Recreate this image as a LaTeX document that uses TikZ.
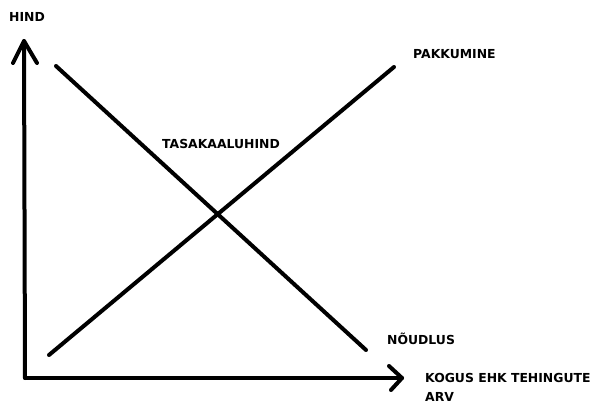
\documentclass[tikz,border=0pt]{standalone}
\usepackage{fontspec}
\setmainfont{DejaVu Sans}
\begin{document}
\begin{tikzpicture}[x=1pt,y=-1pt,
  ln/.style={line width=4pt,line cap=round,line join=round},
  lbl/.style={anchor=west,inner sep=0pt,font=\fontsize{12.4}{19}\selectfont\bfseries}]
\useasboundingbox (0,0) rectangle (590,404);
\fill[white] (0,0) rectangle (590,404);
% axes
\coordinate (O) at (25,378);
\coordinate (Ytip) at (24,41);
\coordinate (Xtip) at (402,378);
\draw[ln] (O) -- (Ytip);
\draw[ln] (O) -- (Xtip);
\draw[ln] (13,63) -- (Ytip) -- (37,63);
\draw[ln] (389,366) -- (Xtip) -- (391,390);
% curves
\coordinate (d1) at (56,66);
\coordinate (d2) at (366,350);
\coordinate (s1) at (49,355);
\coordinate (s2) at (394,67);
\draw[ln] (d1) -- (d2);
\draw[ln] (s1) -- (s2);
% labels
\node[lbl] (hind) at (9,17) {HIND};
\node[lbl] (pakk) at (413,54) {PAKKUMINE};
\node[lbl] (tasa) at (162,144) {TASAKAALUHIND};
\node[lbl] (noud) at (387,339) {NÕUDLUS};
\node[lbl,align=left,anchor=north west] (kogus) at (425,373) {KOGUS EHK TEHINGUTE\\ARV};
\end{tikzpicture}
\end{document}
